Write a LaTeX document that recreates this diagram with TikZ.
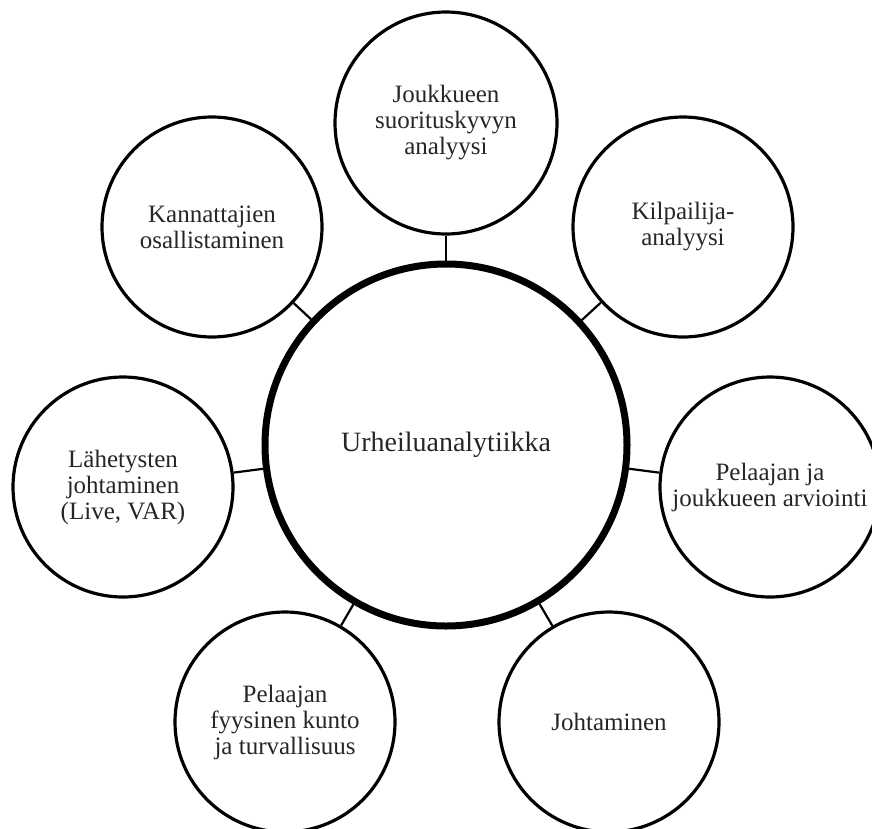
\documentclass[tikz,border=0pt]{standalone}
\usepackage{fontspec}
\setmainfont{Liberation Serif}
\begin{document}
\begin{tikzpicture}[x=1pt,y=-1pt,
  sat/.style={circle,draw=black,line width=3.2pt,minimum size=220pt,inner sep=0pt,align=center,
    font=\fontsize{25}{26}\selectfont,text=black!85},
  hub/.style={circle,draw=black,line width=7pt,minimum size=362pt,inner sep=0pt,align=center,
    font=\fontsize{28}{30}\selectfont,text=black!85},
  link/.style={line width=2.2pt}]
\useasboundingbox (0,0) rectangle (872,828);
\node[hub] (c) at (446,445) {Urheiluanalytiikka};
\node[sat,minimum size=222pt] (t) at (446,123) {Joukkueen\\suorituskyvyn\\analyysi};
\node[sat] (tl) at (212,227) {Kannattajien\\osallistaminen};
\node[sat] (tr) at (683,227) {Kilpailija-\\analyysi};
\node[sat] (l) at (123,487) {Lähetysten\\johtaminen\\(Live, VAR)};
\node[sat] (r) at (770,487) {Pelaajan ja\\joukkueen arviointi};
\node[sat] (bl) at (285,722) {Pelaajan\\fyysinen kunto\\ja turvallisuus};
\node[sat] (br) at (609,722) {Johtaminen};
\foreach \n in {t,tl,tr,l,r,bl,br} \draw[link] (c) -- (\n);
\end{tikzpicture}
\end{document}
